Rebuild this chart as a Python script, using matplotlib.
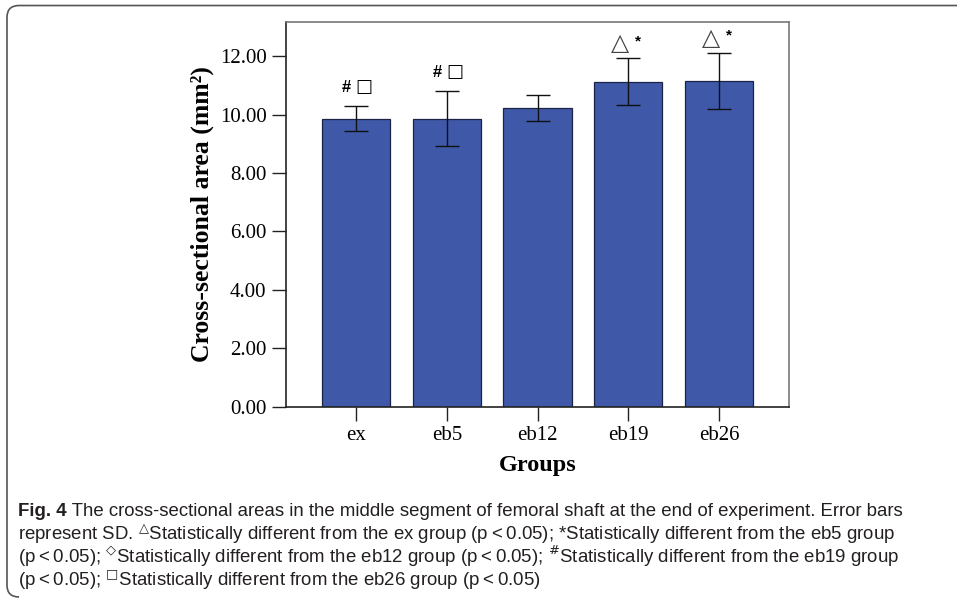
import matplotlib
matplotlib.use('Agg')
import matplotlib.pyplot as plt
from matplotlib import font_manager
from matplotlib.path import Path
from matplotlib.patches import PathPatch

# data
groups = ['ex', 'eb5', 'eb12', 'eb19', 'eb26']
means = [9.87, 9.87, 10.24, 11.13, 11.17]
sds = [0.43, 0.94, 0.44, 0.81, 0.96]
marks = ['#', '#', '', '△', '△']


def has_font(name):
    try:
        font_manager.findfont(name, fallback_to_default=False)
        return True
    except Exception:
        return False


cap_font = 'Liberation Sans Narrow' if has_font('Liberation Sans Narrow') else 'Liberation Sans'
serif = ['Liberation Serif', 'DejaVu Serif']

plt.rcParams['mathtext.fontset'] = 'dejavusans'

fig = plt.figure(figsize=(9.57, 6.0), dpi=100)
ax = fig.add_axes([0.2989, 0.3225, 0.5256, 0.6408])

x = list(range(len(groups)))
ax.bar(x, means, width=0.75, color='#3f58a8', edgecolor='#1c2346', linewidth=0.9, zorder=2)
ax.errorbar(x, means, yerr=sds, fmt='none', ecolor='#111111', elinewidth=1.0,
            capsize=8.3, capthick=1.0, zorder=3)

for i in x:
    top = means[i] + sds[i]
    if marks[i] == '#':
        ax.annotate('#', xy=(i, top), xytext=(-7, 8), textcoords='offset points',
                    ha='center', va='bottom', fontsize=12, fontweight='bold',
                    family=['Liberation Sans', 'DejaVu Sans'])
        ax.annotate('□', xy=(i, top), xytext=(6, 7), textcoords='offset points',
                    ha='center', va='bottom', fontsize=13, family=['DejaVu Sans'])
    elif marks[i] == '△':
        ax.annotate('△', xy=(i, top), xytext=(-6, 2), textcoords='offset points',
                    ha='center', va='bottom', fontsize=17, family=['DejaVu Sans'],
                    color='#444444')
        ax.annotate('*', xy=(i, top), xytext=(7, 7), textcoords='offset points',
                    ha='center', va='bottom', fontsize=11, fontweight='bold',
                    family=['Liberation Sans', 'DejaVu Sans'])

ax.set_xlim(-0.77, 4.77)
ax.set_ylim(0, 13.18)
ax.set_yticks([0, 2, 4, 6, 8, 10, 12])
ax.set_yticklabels(['%.2f' % v for v in [0, 2, 4, 6, 8, 10, 12]], family=serif, fontsize=15)
ax.set_xticks(x)
ax.set_xticklabels(groups, family=serif, fontsize=15)
ax.tick_params(axis='both', direction='out', length=10, width=1.0, colors='#222222',
               labelcolor='black', pad=4)
for s in ['left', 'bottom']:
    ax.spines[s].set_color('#222222')
for s in ['top', 'right']:
    ax.spines[s].set_color('#777777')
for s in ax.spines.values():
    s.set_linewidth(1.2)

ax.set_ylabel('Cross-sectional area (mm²)', family=serif, fontsize=18.5,
              fontweight='bold', labelpad=4)
ax.set_xlabel('Groups', family=serif, fontsize=17.5, fontweight='bold', labelpad=7)

# page frame with rounded left corners
r = 0.02
verts = [(1.0, 0.9908), (0.0073 + r * 0.63, 0.9908), (0.0073, 0.9908), (0.0073, 0.9908 - r),
         (0.0073, 0.005 + r), (0.0073, 0.005), (0.0073 + r * 0.63, 0.005)]
codes = [Path.MOVETO, Path.LINETO, Path.CURVE3, Path.CURVE3, Path.LINETO, Path.CURVE3, Path.CURVE3]
fig.add_artist(PathPatch(Path(verts, codes), transform=fig.transFigure, facecolor='none',
                         edgecolor='#555555', linewidth=1.2))

# caption
cap_size = 13.4
cap_kw = dict(fontsize=cap_size, family=[cap_font, 'DejaVu Sans'], color='#231f20', va='baseline')
lines = [
    ' The cross-sectional areas in the middle segment of femoral shaft at the end of experiment. Error bars',
    'represent SD. $^{\u25b3}$Statistically different from the ex group (p\u2009<\u20090.05); *Statistically different from the eb5 group',
    '(p\u2009<\u20090.05); $^{\u25c7}$Statistically different from the eb12 group (p\u2009<\u20090.05); $^{\\#}$Statistically different from the eb19 group',
    '(p\u2009<\u20090.05); $^{\u25a1}$Statistically different from the eb26 group (p\u2009<\u20090.05)',
]
ys = [0.1395, 0.1005, 0.0615, 0.0225]
t0 = fig.text(0.019, ys[0], 'Fig. 4', fontweight='bold', **cap_kw)
ax.annotate(lines[0], xy=(1, 0), xycoords=t0, xytext=(0, 0), textcoords='offset points',
            annotation_clip=False, fontsize=cap_size, family=[cap_font, 'DejaVu Sans'],
            color='#231f20', va='bottom')
for yy, s in zip(ys[1:], lines[1:]):
    fig.text(0.019, yy, s, **cap_kw)

fig.savefig('out.png', dpi=100)
